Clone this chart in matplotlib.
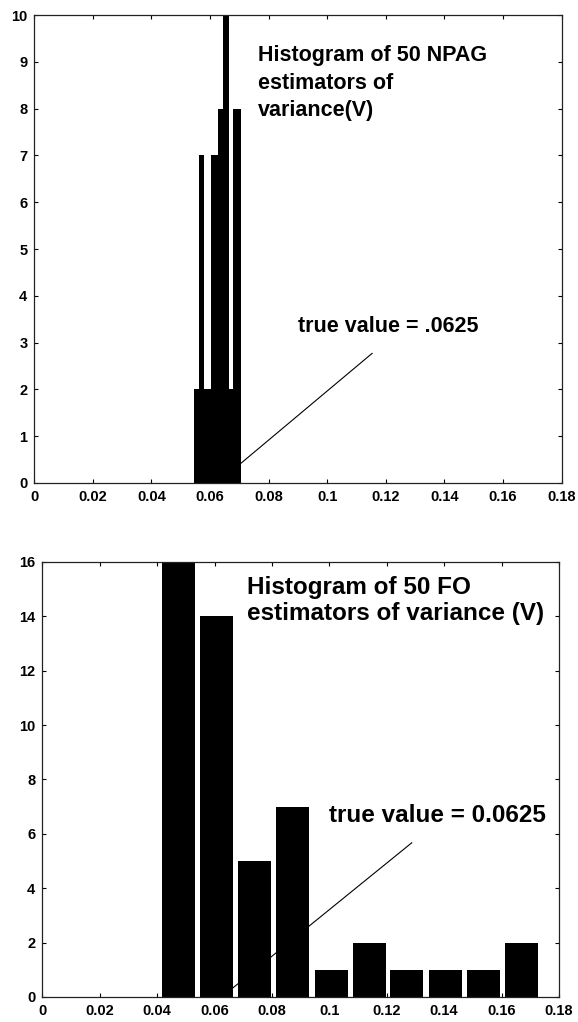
import matplotlib
matplotlib.use("Agg")
import matplotlib.pyplot as plt
import numpy as np

plt.rcParams['font.family'] = ['Liberation Sans', 'DejaVu Sans']

# NPAG estimators: bin edges and counts
npag_edges = [0.0545, 0.0561, 0.0580, 0.0604, 0.0627, 0.0645, 0.0666, 0.0679, 0.0705]
npag_counts = [2, 7, 2, 7, 8, 10, 2, 8]

# FO estimators: bin centres and counts
fo_centers = [0.0474, 0.0608, 0.0739, 0.0873, 0.1008, 0.1139, 0.1269, 0.1403, 0.1538, 0.1669]
fo_counts = [16, 14, 5, 7, 1, 2, 1, 1, 1, 2]
fo_width = 0.0115

true_v = 0.0625
xticks = [0, 0.02, 0.04, 0.06, 0.08, 0.1, 0.12, 0.14, 0.16, 0.18]
xticklabels = ['0', '0.02', '0.04', '0.06', '0.08', '0.1', '0.12', '0.14', '0.16', '0.18']

fig = plt.figure(figsize=(5.78, 10.22), dpi=100)
ax1 = fig.add_axes([0.0593, 0.5274, 0.9125, 0.4579])
ax2 = fig.add_axes([0.0732, 0.0245, 0.8939, 0.4256])


def style(ax, ymax, ystep):
    ax.set_xlim(0, 0.18)
    ax.set_ylim(0, ymax)
    ax.set_xticks(xticks)
    ax.set_xticklabels(xticklabels)
    ax.set_yticks(np.arange(0, ymax + 1, ystep))
    ax.tick_params(direction='in', length=3, width=0.8, top=True, right=True,
                   labelsize=10.5, pad=5)
    for lab in ax.get_xticklabels() + ax.get_yticklabels():
        lab.set_fontweight('bold')
    for s in ax.spines.values():
        s.set_linewidth(0.9)
        s.set_color('#222222')


# top panel
e = np.array(npag_edges)
ax1.bar(e[:-1], npag_counts, width=np.diff(e), align='edge', color='black',
        linewidth=0, zorder=2)
ax1.plot([true_v, 0.1153], [0, 2.77], color='black', lw=0.8, zorder=1)
ax1.text(0.0763, 9.35, 'Histogram of 50 NPAG\nestimators of\nvariance(V)',
         ha='left', va='top', fontsize=15.5, fontweight='bold', linespacing=1.4)
ax1.text(0.0900, 3.23, 'true value = .0625', ha='left', va='baseline',
         fontsize=15.5, fontweight='bold')
style(ax1, 10, 1)

# bottom panel
ax2.bar(fo_centers, fo_counts, width=fo_width, color='black', linewidth=0,
        zorder=2)
ax2.plot([true_v, 0.1287], [0, 5.67], color='black', lw=0.8, zorder=1)
ax2.text(0.0713, 13.87, 'Histogram of 50 FO\nestimators of variance (V)',
         ha='left', va='baseline', fontsize=17.5, fontweight='bold',
         linespacing=1.15)
ax2.text(0.0999, 6.44, 'true value = 0.0625', ha='left', va='baseline',
         fontsize=17.5, fontweight='bold')
style(ax2, 16, 2)

fig.savefig('out.png', dpi=100)
